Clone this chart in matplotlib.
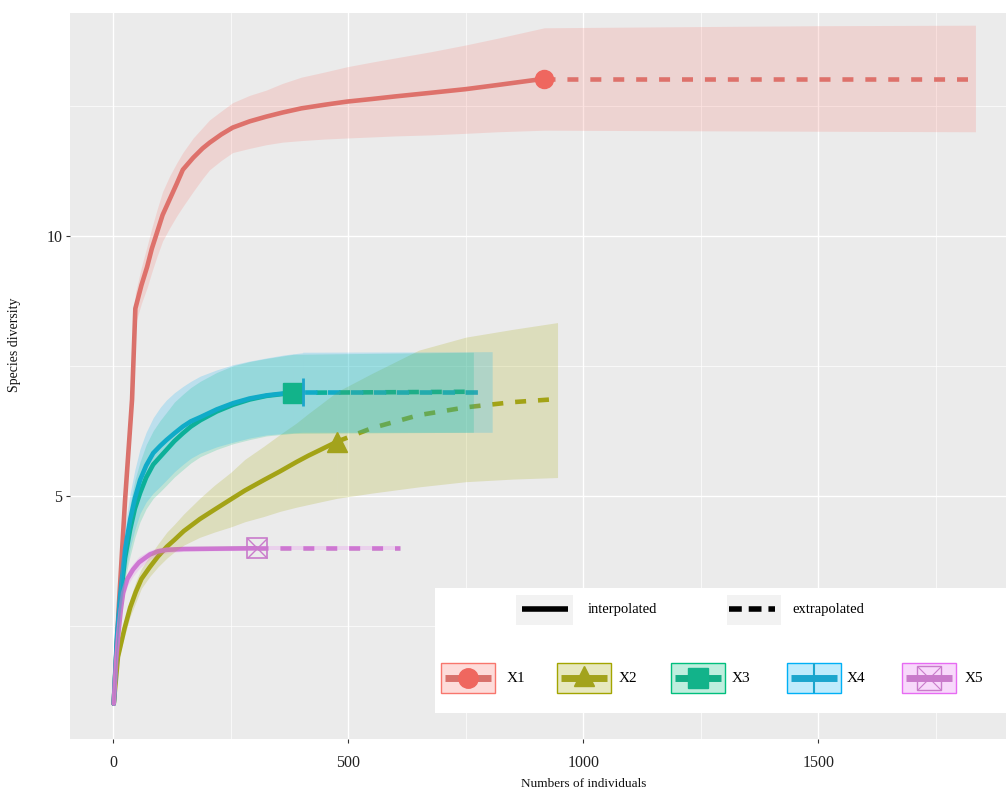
import matplotlib
matplotlib.use("Agg")
import matplotlib.pyplot as plt
from matplotlib.patches import Rectangle
from matplotlib.lines import Line2D

plt.rcParams['font.family'] = ['Liberation Serif', 'DejaVu Serif']

# ---------------- data ----------------
names = ["X1", "X2", "X3", "X4", "X5"]
line_colors = ["#D8716B", "#A3A31C", "#14AD85", "#1BA5CD", "#C97BCB"]
point_colors = ["#EF675F", "#A3A31C", "#12B38A", "#1BA5CD", "#C97BCB"]
fill_colors = ["#F8766D", "#A3A500", "#00BF7D", "#00B0F6", "#E76BF3"]

# X1
x1_int = [1, 12, 25, 40, 47, 60, 72, 82, 93, 105, 120, 135, 148, 170, 190, 205, 230, 254, 290, 325,
          360, 400, 450, 497, 550, 600, 676, 750, 818, 917]
y1_int = [1, 2.9, 4.9, 6.85, 8.6, 9.05, 9.4, 9.75, 10.06, 10.4, 10.7, 11.0, 11.27, 11.5, 11.68, 11.79,
          11.95, 12.08, 12.2, 12.29, 12.37, 12.45, 12.52, 12.58, 12.63, 12.68, 12.75, 12.82, 12.9, 13.02]
lo1_int = [1, 2.75, 4.7, 6.6, 8.3, 8.7, 9.0, 9.3, 9.6, 9.9, 10.15, 10.38, 10.56, 10.85, 11.1, 11.27,
           11.45, 11.6, 11.68, 11.75, 11.8, 11.83, 11.86, 11.88, 11.9, 11.92, 11.94, 11.97, 12.0, 12.03]
hi1_int = [1, 3.05, 5.1, 7.1, 8.9, 9.4, 9.8, 10.15, 10.5, 10.85, 11.15, 11.4, 11.6, 11.88, 12.08, 12.23,
           12.4, 12.56, 12.7, 12.8, 12.93, 13.05, 13.15, 13.25, 13.34, 13.42, 13.54, 13.67, 13.8, 14.0]
x1_ext = [917, 1200, 1500, 1834]
y1_ext = [13.02, 13.02, 13.02, 13.02]
lo1_ext = [12.03, 12.02, 12.01, 12.0]
hi1_ext = [14.0, 14.02, 14.04, 14.05]

# X2
x2_int = [1, 10, 24, 36, 48, 60, 78, 95, 114, 130, 150, 184, 215, 250, 280, 320, 355, 390, 415, 440, 476]
y2_int = [1, 1.9, 2.45, 2.85, 3.15, 3.4, 3.63, 3.83, 4.02, 4.15, 4.32, 4.55, 4.73, 4.93, 5.1, 5.3,
          5.47, 5.65, 5.77, 5.88, 6.04]
lo2_int = [1, 1.8, 2.3, 2.68, 2.95, 3.22, 3.45, 3.63, 3.8, 3.92, 4.05, 4.2, 4.3, 4.4, 4.5, 4.6,
           4.7, 4.78, 4.83, 4.88, 4.95]
hi2_int = [1, 2.0, 2.6, 3.02, 3.35, 3.6, 3.85, 4.07, 4.3, 4.45, 4.65, 4.95, 5.2, 5.45, 5.7, 5.95,
           6.18, 6.4, 6.58, 6.75, 7.0]
x2_ext = [476, 550, 650, 750, 850, 945]
y2_ext = [6.04, 6.3, 6.55, 6.7, 6.8, 6.86]
lo2_ext = [4.95, 5.05, 5.17, 5.27, 5.32, 5.35]
hi2_ext = [7.0, 7.35, 7.8, 8.05, 8.2, 8.33]

# X3
x3_int = [1, 8, 15, 25, 36, 46, 57, 70, 85, 100, 113, 130, 148, 165, 185, 220, 255, 290, 326, 383]
y3_int = [1, 2.2, 3.0, 3.8, 4.35, 4.75, 5.05, 5.35, 5.6, 5.75, 5.88, 6.05, 6.2, 6.33, 6.45, 6.62,
          6.75, 6.85, 6.92, 6.98]
lo3_int = [1, 2.0, 2.7, 3.4, 3.85, 4.2, 4.5, 4.75, 4.95, 5.08, 5.2, 5.36, 5.5, 5.63, 5.75, 5.89,
           6.0, 6.08, 6.15, 6.2]
hi3_int = [1, 2.4, 3.3, 4.2, 4.85, 5.3, 5.65, 5.98, 6.25, 6.45, 6.6, 6.8, 6.95, 7.08, 7.2, 7.37,
           7.5, 7.58, 7.64, 7.72]
x3_ext = [383, 766]
y3_ext = [6.98, 7.0]
lo3_ext = [6.2, 6.22]
hi3_ext = [7.72, 7.76]

# X4
x4_int = [1, 8, 15, 25, 36, 46, 57, 70, 85, 100, 113, 130, 148, 165, 185, 220, 255, 290, 326, 365, 403]
y4_int = [1, 2.3, 3.1, 3.96, 4.54, 4.95, 5.3, 5.58, 5.82, 5.96, 6.07, 6.2, 6.33, 6.43, 6.51, 6.66,
          6.78, 6.87, 6.93, 6.97, 7.0]
lo4_int = [1, 2.1, 2.8, 3.5, 4.0, 4.35, 4.66, 4.88, 5.05, 5.18, 5.3, 5.46, 5.6, 5.72, 5.82, 5.94,
           6.03, 6.11, 6.17, 6.2, 6.22]
hi4_int = [1, 2.5, 3.4, 4.4, 5.05, 5.5, 5.9, 6.22, 6.5, 6.7, 6.84, 6.98, 7.1, 7.2, 7.3, 7.42,
           7.52, 7.59, 7.65, 7.71, 7.75]
x4_ext = [403, 790]
y4_ext = [7.0, 7.0]
x4_band_ext = [403, 806]
lo4_ext = [6.22, 6.22]
hi4_ext = [7.76, 7.77]

# X5
x5_int = [1, 6, 11, 16, 21, 30, 42, 55, 78, 95, 114, 150, 200, 305]
y5_int = [1, 1.8, 2.36, 2.8, 3.13, 3.4, 3.58, 3.72, 3.87, 3.93, 3.96, 3.975, 3.98, 3.99]
lo5_int = [1, 1.7, 2.25, 2.68, 3.0, 3.27, 3.45, 3.6, 3.78, 3.86, 3.9, 3.93, 3.94, 3.95]
hi5_int = [1, 1.9, 2.47, 2.92, 3.26, 3.53, 3.7, 3.83, 3.95, 4.0, 4.02, 4.02, 4.02, 4.03]
x5_ext = [305, 610]
y5_ext = [3.99, 3.99]
lo5_ext = [3.95, 3.95]
hi5_ext = [4.03, 4.03]

x_ticks = [0, 500, 1000, 1500]
y_ticks = [5, 10]
x_label = "Numbers of individuals"
y_label = "Species diversity"
lt_labels = ["interpolated", "extrapolated"]

series = [
    (x1_int, y1_int, lo1_int, hi1_int, x1_ext, y1_ext, x1_ext, lo1_ext, hi1_ext),
    (x2_int, y2_int, lo2_int, hi2_int, x2_ext, y2_ext, x2_ext, lo2_ext, hi2_ext),
    (x3_int, y3_int, lo3_int, hi3_int, x3_ext, y3_ext, x3_ext, lo3_ext, hi3_ext),
    (x4_int, y4_int, lo4_int, hi4_int, x4_ext, y4_ext, x4_band_ext, lo4_ext, hi4_ext),
    (x5_int, y5_int, lo5_int, hi5_int, x5_ext, y5_ext, x5_ext, lo5_ext, hi5_ext),
]

# ---------------- figure ----------------
W, H = 1006, 791
fig = plt.figure(figsize=(W / 100, H / 100), dpi=100)
fig.patch.set_facecolor("white")


def fx(px):
    return px / W


def fy(py):
    return 1 - py / H


ax = fig.add_axes([fx(70), fy(739), fx(1006) - fx(70), fy(12.7) - fy(739)])
ax.set_facecolor("#EBEBEB")
for s in ax.spines.values():
    s.set_visible(False)
ax.set_xlim(-92, 1899)
ax.set_ylim(0.321, 14.29)
ax.set_xticks(x_ticks)
ax.set_xticklabels([str(v) for v in x_ticks])
ax.set_yticks(y_ticks)
ax.set_yticklabels([str(v) for v in y_ticks])
ax.set_xticks([250, 750, 1250, 1750], minor=True)
ax.set_yticks([2.5, 7.5, 12.5], minor=True)
ax.grid(which="major", color="white", linewidth=1.0)
ax.grid(which="minor", color="white", linewidth=0.5)
ax.set_axisbelow(True)
ax.tick_params(which="major", axis="x", length=3, width=0.8, color="#333333",
               labelsize=11.5, labelcolor="#222222", pad=8.5)
ax.tick_params(which="major", axis="y", length=3, width=0.8, color="#333333",
               labelsize=11.5, labelcolor="#222222", pad=2.5)
ax.tick_params(which="minor", length=0)

lw = 3.3
dash = (0, (2.4, 2.6))
dash_x4 = (4.65, (2.7, 2.3))
for i, (xi, yi, li, hi, xe, ye, xbe, le, he) in enumerate(series):
    ax.plot(xi, yi, color=line_colors[i], lw=lw, solid_capstyle="round",
            solid_joinstyle="round", zorder=2)
    ax.plot(xe, ye, color=line_colors[i], lw=lw,
            linestyle=(dash_x4 if i == 3 else dash), zorder=2)

for i, (xi, yi, li, hi, xe, ye, xbe, le, he) in enumerate(series):
    ax.fill_between(xi, li, hi, color=fill_colors[i], alpha=0.2, lw=0, zorder=3)
    ax.fill_between(xbe, le, he, color=fill_colors[i], alpha=0.2, lw=0, zorder=3)

# observed points
obs = [(s[0][-1], s[1][-1]) for s in series]
ax.plot(*obs[0], marker="o", ms=13, color=point_colors[0], mec=point_colors[0], zorder=5)
ax.plot(*obs[1], marker="^", ms=14, color=point_colors[1], mec=point_colors[1], zorder=5)
ax.plot(*obs[2], marker="s", ms=14, color=point_colors[2], mec=point_colors[2], zorder=5)
ax.plot(*obs[3], marker="|", ms=20, mew=2, color=point_colors[3], zorder=5)
ax.plot(*obs[4], marker="s", ms=14, mfc="none", mew=1.2, mec=point_colors[4], zorder=5)
ax.plot(*obs[4], marker="x", ms=14, mew=1.0, color=point_colors[4], zorder=5)

# axis labels
fig.text(fx(584), fy(784), x_label, ha="center", va="center", fontsize=9.5, color="#111111")
fig.text(fx(15), fy(345), y_label, ha="center", va="center", rotation=90,
         fontsize=10, color="#111111")

# ---------------- legend (manual) ----------------
tf = fig.transFigure


def rect(x0, y0, x1, y1, **kw):
    r = Rectangle((fx(x0), fy(y1)), fx(x1) - fx(x0), fy(y0) - fy(y1), transform=tf, **kw)
    fig.add_artist(r)


def hline(x0, x1, y, **kw):
    fig.add_artist(Line2D([fx(x0), fx(x1)], [fy(y), fy(y)], transform=tf, **kw))


def mark(x, y, **kw):
    fig.add_artist(Line2D([fx(x)], [fy(y)], transform=tf, linestyle="none", **kw))


rect(435, 588, 1010, 713, facecolor="white", edgecolor="none", zorder=10)
# linetype row
rect(516, 595, 573, 625, facecolor="#F2F2F2", edgecolor="none", zorder=11)
hline(522, 568, 609, color="black", lw=4, solid_capstyle="butt", zorder=12)
fig.text(fx(588), fy(609), lt_labels[0], ha="left", va="center", fontsize=10.5, zorder=12)
rect(727, 595, 781, 625, facecolor="#F2F2F2", edgecolor="none", zorder=11)
hline(729, 775, 609, color="black", lw=4, linestyle=(0, (2.3, 1.25)), zorder=12)
fig.text(fx(792), fy(609), lt_labels[1], ha="left", va="center", fontsize=10.5, zorder=12)

# group row
box_x = [441, 557, 671, 787, 902]
txt_x = [507, 619, 732, 847, 965]
for i in range(5):
    x0 = box_x[i]
    x1 = x0 + 54
    rect(x0, 663, x1, 693, facecolor=fill_colors[i], alpha=0.25, edgecolor="none", zorder=11)
    rect(x0, 663, x1, 693, facecolor="none", edgecolor=fill_colors[i], lw=1.0, zorder=12)
    hline(x0 + 4, x1 - 4, 678, color=line_colors[i], lw=5, solid_capstyle="butt", zorder=13)
    cx = (x0 + x1) / 2
    if i == 0:
        mark(cx, 678, marker="o", ms=14, color=point_colors[0], zorder=14)
    elif i == 1:
        mark(cx, 676, marker="^", ms=14, color=point_colors[1], zorder=14)
    elif i == 2:
        mark(cx, 678, marker="s", ms=15, color=point_colors[2], zorder=14)
    elif i == 3:
        mark(cx, 678, marker="|", ms=21, mew=1.5, color=point_colors[3], zorder=14)
    else:
        mark(cx, 678, marker="s", ms=17, mfc="none", mec=point_colors[4], mew=1.0, zorder=14)
        mark(cx, 678, marker="x", ms=17, mew=0.8, color=point_colors[4], zorder=14)
    fig.text(fx(txt_x[i]), fy(679), names[i], ha="left", va="center", fontsize=11, zorder=14)

fig.savefig("out.png", dpi=100)
